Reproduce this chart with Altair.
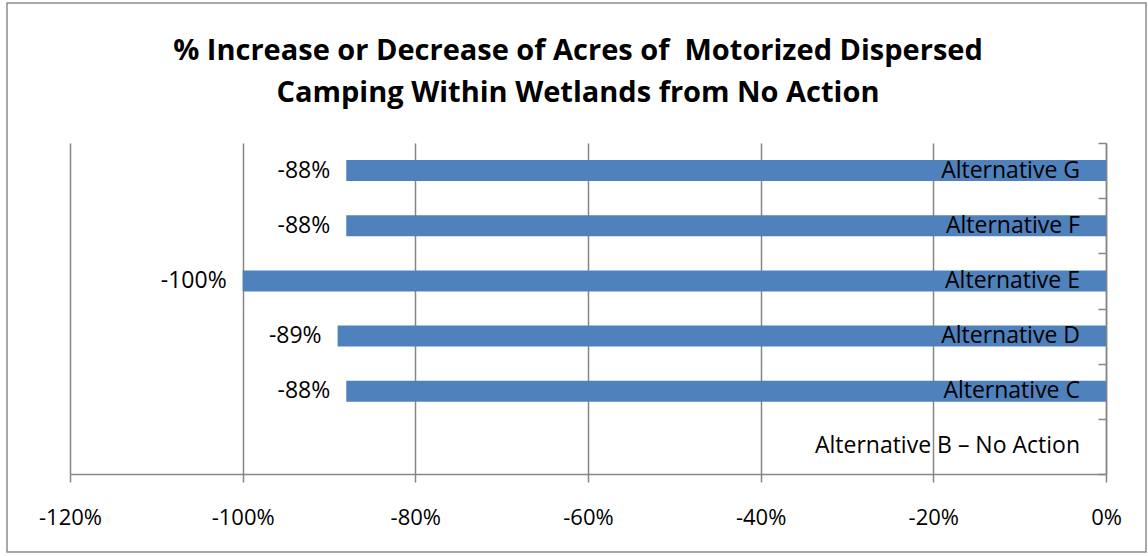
import altair as alt
import pandas as pd

categories = ["Alternative G", "Alternative F", "Alternative E", "Alternative D", "Alternative C", "Alternative B – No Action"]
values = [-88, -88, -100, -89, -88, None]
x_ticks = [-120, -100, -80, -60, -40, -20, 0]

df = pd.DataFrame({"cat": categories, "val": values})
df["label"] = [("%d%%" % v) if v is not None and not pd.isna(v) else "" for v in df["val"]]
df["zero"] = 0

FONT = "Open Sans"
GRAY = "#868686"
BLUE = "#4F81BD"
W, H = 1036, 331

y_enc = alt.Y("cat:N", sort=categories, scale=alt.Scale(paddingInner=0, paddingOuter=0),
              axis=alt.Axis(orient="left", offset=-W, labels=False, title=None, grid=False,
                            domainColor=GRAY, tickColor=GRAY, tickSize=8, tickBand="extent",
                            domainWidth=1.5, tickWidth=1.5))

x_enc = alt.X("val:Q", scale=alt.Scale(domain=[-120, 0], nice=False, zero=False),
              axis=alt.Axis(values=x_ticks, title=None, grid=True, gridColor=GRAY, gridWidth=1.5,
                            domainColor=GRAY, domainWidth=1.5, tickColor=GRAY, tickWidth=1.5, tickSize=8,
                            labelExpr="datum.value + '%'", labelFont=FONT, labelFontSize=22,
                            labelColor="black", labelPadding=25, labelFlush=False))

base = alt.Chart(df)

bars = base.transform_filter("isValid(datum.val)").mark_bar(color=BLUE, size=21).encode(
    x=x_enc, x2="zero:Q", y=y_enc)

val_text = base.transform_filter("isValid(datum.val)").mark_text(
    align="right", baseline="middle", dx=-16, font=FONT, fontSize=23, color="black").encode(
    x=alt.X("val:Q"), y=alt.Y("cat:N", sort=categories), text="label:N")

cat_text = base.mark_text(align="right", baseline="middle", dx=-26, font=FONT, fontSize=23,
                          color="black").encode(
    x=alt.X("zero:Q"), y=alt.Y("cat:N", sort=categories), text="cat:N")

frame = alt.Chart(alt.Data(values=[{"a": 1}])).mark_rect(
    filled=False, stroke="#8c8c8c", strokeWidth=1.5).encode(
    x=alt.value(-63), x2=alt.value(1076), y=alt.value(-140), y2=alt.value(409))

chart = alt.layer(bars, val_text, cat_text, frame).properties(
    width=W, height=H,
    title=alt.TitleParams(
        text=["% Increase or Decrease of Acres of \u00a0Motorized Dispersed",
              "Camping Within Wetlands from No Action"],
        font=FONT, fontSize=29, fontWeight="bold", color="black",
        anchor="middle", dx=-10, lineHeight=42, offset=-106),
    autosize=alt.AutoSizeParams(type="none"),
    padding={"left": 70, "top": 143, "right": 42, "bottom": 82},
    background="white",
).configure_view(strokeOpacity=0)

chart.save("out.html", embed_options={"renderer": "svg", "actions": False})
